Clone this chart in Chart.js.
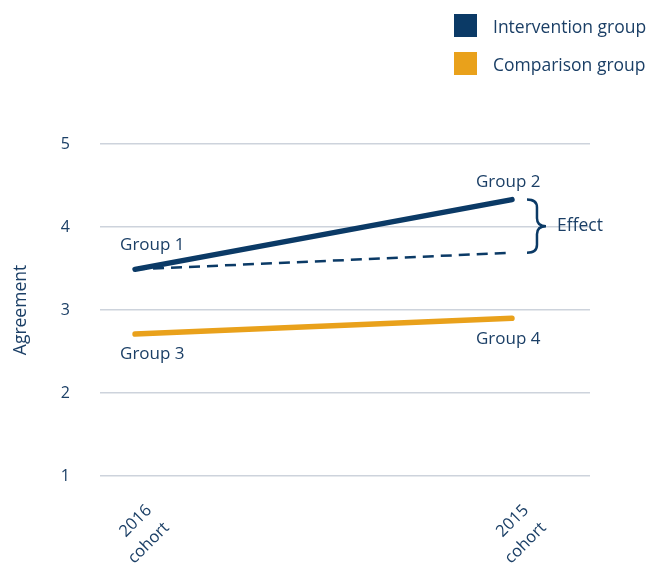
<!DOCTYPE html>
<html>
<head>
<meta charset="utf-8">
<script src="https://cdn.jsdelivr.net/npm/chart.js@4/dist/chart.umd.min.js"></script>
<style>
body { margin: 0; background: #fff; font-family: "Open Sans", sans-serif; }
#wrap { position: relative; width: 665px; height: 565px; }
#leyenda { position: absolute; left: 454px; top: 14px; color: #1b3f66; font-size: 17.5px; }
.item { display: flex; align-items: center; height: 23px; margin-bottom: 15px; }
.item span { display: inline-block; width: 23px; height: 23px; margin-right: 16px; }
</style>
</head>
<body>
<div id="wrap">
  <canvas id="grafico" width="665" height="565"></canvas>
  <div id="leyenda"></div>
</div>
<script>
// Datos
const cohortes = [['2016', 'cohort'], ['2015', 'cohort']];
const posX = [0, 1];
const intervencion = [3.49, 4.33];
const contrafactual = [3.49, 3.69];
const comparacion = [2.71, 2.90];
const ticksY = [1, 2, 3, 4, 5];
const etiquetas = ['Group 1', 'Group 2', 'Group 3', 'Group 4'];
const series = ['Intervention group', 'Comparison group'];

const AZUL = '#0b3a66', NARANJA = '#e9a11b', TEXTO = '#1b3f66', REJILLA = '#cdd3dc';
const FUENTE = '"Open Sans", sans-serif';

document.getElementById('leyenda').innerHTML = series.map((s, i) =>
  `<div class="item"><span style="background:${i ? NARANJA : AZUL}"></span>${s}</div>`).join('');

const puntos = ys => posX.map((x, i) => ({ x, y: ys[i] }));

// anotaciones: Group 1..4 y la llave "Effect"
const anotaciones = {
  id: 'anotaciones',
  afterDatasetsDraw(chart) {
    const ctx = chart.ctx;
    const p = i => chart.getDatasetMeta(i).data;
    const a = p(0), d = p(1), c = p(2);
    ctx.save();
    ctx.fillStyle = TEXTO;
    ctx.font = '17px ' + FUENTE;
    ctx.textBaseline = 'middle';
    ctx.textAlign = 'left';
    ctx.fillText(etiquetas[0], a[0].x - 15, a[0].y - 24);
    ctx.fillText(etiquetas[1], a[1].x - 36, a[1].y - 17);
    ctx.fillText(etiquetas[2], c[0].x - 15, c[0].y + 20);
    ctx.fillText(etiquetas[3], c[1].x - 36, c[1].y + 21);

    // llave
    const x0 = a[1].x + 15, yT = a[1].y, yB = d[1].y, yM = (yT + yB) / 2, r = 8;
    ctx.strokeStyle = AZUL;
    ctx.lineWidth = 2.5;
    ctx.beginPath();
    ctx.moveTo(x0, yT);
    ctx.quadraticCurveTo(x0 + 10, yT, x0 + 10, yT + r);
    ctx.lineTo(x0 + 10, yM - r);
    ctx.quadraticCurveTo(x0 + 10, yM, x0 + 19, yM);
    ctx.quadraticCurveTo(x0 + 10, yM, x0 + 10, yM + r);
    ctx.lineTo(x0 + 10, yB - r);
    ctx.quadraticCurveTo(x0 + 10, yB, x0, yB);
    ctx.stroke();
    ctx.font = '17.5px ' + FUENTE;
    ctx.fillText('Effect', x0 + 30, yM);
    ctx.restore();
  }
};

new Chart(document.getElementById('grafico'), {
  type: 'line',
  data: {
    datasets: [
      { label: series[0], data: puntos(intervencion), borderColor: AZUL, borderWidth: 5.5, borderCapStyle: 'round', pointRadius: 0 },
      { label: 'counterfactual', data: puntos(contrafactual), borderColor: AZUL, borderWidth: 2.5, borderDash: [11, 7], pointRadius: 0 },
      { label: series[1], data: puntos(comparacion), borderColor: NARANJA, borderWidth: 5.5, borderCapStyle: 'round', pointRadius: 0 }
    ]
  },
  options: {
    responsive: false,
    animation: false,
    layout: { padding: { top: 144, right: 75, left: 0, bottom: 0 } },
    plugins: { legend: { display: false }, tooltip: { enabled: false } },
    scales: {
      x: {
        type: 'linear',
        min: -0.093, max: 1.207,
        afterBuildTicks: s => { s.ticks = posX.map(v => ({ value: v })); },
        afterFit: s => { s.height = 89; },
        grid: { display: false },
        border: { display: false },
        ticks: {
          autoSkip: false,
          minRotation: 45, maxRotation: 45,
          padding: 15,
          labelOffset: 14,
          color: TEXTO,
          font: { family: FUENTE, size: 16.5, lineHeight: 1.5 },
          callback: v => cohortes[posX.indexOf(v)]
        }
      },
      y: {
        min: 1, max: 5,
        afterBuildTicks: s => { s.ticks = ticksY.map(v => ({ value: v })); },
        afterFit: s => { s.width = 100; },
        grid: { color: REJILLA, lineWidth: 1.5, drawTicks: false },
        border: { display: false },
        ticks: { padding: 30, color: TEXTO, font: { family: FUENTE, size: 16 } },
        title: { display: true, text: 'Agreement', color: TEXTO, font: { family: FUENTE, size: 17.5 }, padding: { top: 11, bottom: 0 } }
      }
    }
  },
  plugins: [anotaciones]
});
</script>
</body>
</html>
